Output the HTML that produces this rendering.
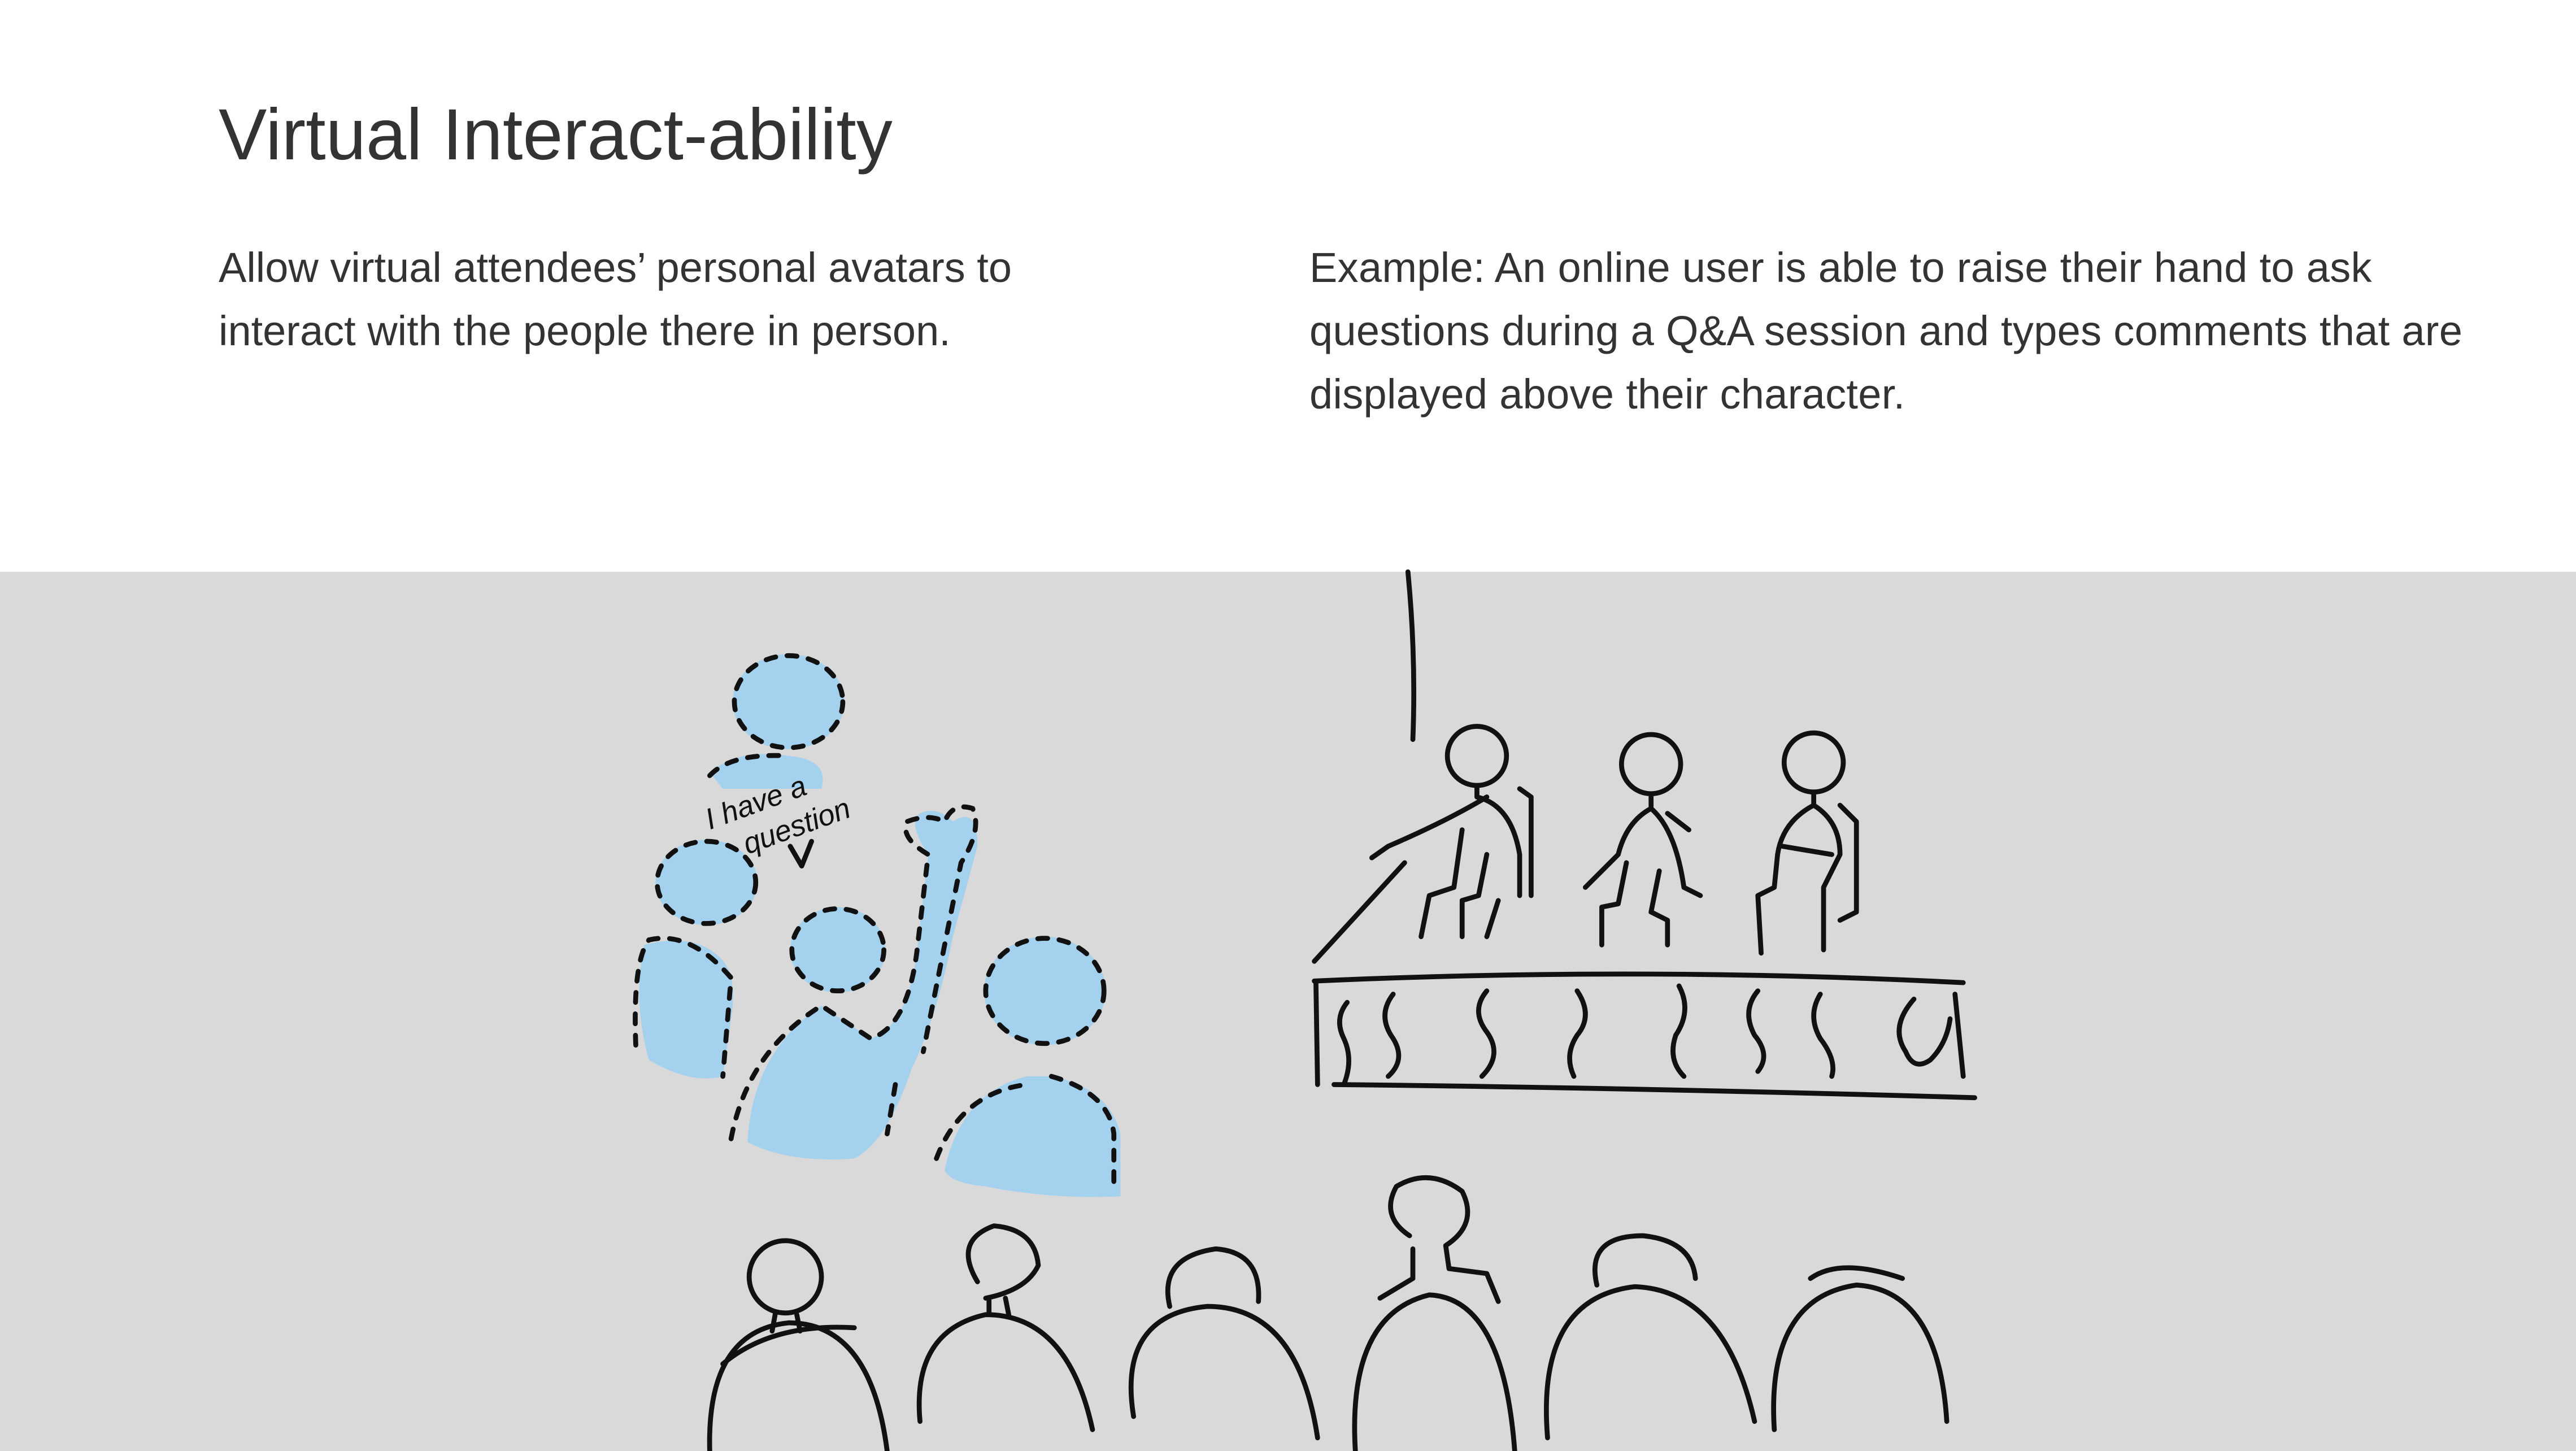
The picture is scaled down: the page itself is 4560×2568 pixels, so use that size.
<!DOCTYPE html>
<html><head><meta charset="utf-8"><style>
html,body{margin:0;padding:0;width:4560px;height:2568px;overflow:hidden;background:#fff;font-family:"Liberation Sans",Arial,sans-serif;color:#333;}
.t{position:absolute;left:387px;top:165px;font-size:128px;letter-spacing:0px;}
.p{position:absolute;font-size:74px;line-height:112px;}
.band{position:absolute;left:0;top:1012px;width:4560px;height:1556px;background:#d9d9d9;}
svg{position:absolute;left:0;top:0;}
</style></head><body>
<div class="t">Virtual Interact-ability</div>
<div class="p" style="left:387px;top:418px;width:1900px">Allow virtual attendees’ personal avatars to<br>interact with the people there in person.</div>
<div class="p" style="left:2318px;top:418px;width:2200px;letter-spacing:0.3px">Example: An online user is able to raise their hand to ask<br>questions during a Q&amp;A session and types comments that are<br>displayed above their character.</div>
<div class="band"></div>
<svg width="4560" height="2568" viewBox="0 0 1568 883" preserveAspectRatio="none">
<g fill="#a4d1ee">
<ellipse cx="480" cy="427" rx="34" ry="29"/>
<path d="M432,470 Q450,455 480,460 Q505,462 500,480 L440,480 Z"/>
<ellipse cx="430" cy="537" rx="31" ry="26"/>
<path d="M392,575 Q420,568 435,580 Q450,590 445,620 L440,655 Q420,660 395,645 Q385,610 392,575 Z"/>
<ellipse cx="510" cy="578" rx="29" ry="26"/>
<path d="M455,695 Q458,640 500,612 L530,632 Q552,625 558,580 L565,520 Q552,500 560,495 Q570,490 580,500 Q595,490 595,515 L580,570 Q570,620 555,650 Q540,695 520,705 Q480,708 455,695 Z"/>
<ellipse cx="636" cy="603" rx="37" ry="33"/>
<path d="M575,712 Q585,665 625,655 L640,655 Q675,662 682,690 L682,728 Q640,730 600,722 Q578,720 575,712 Z"/>
</g>
<g fill="none" stroke="#111" stroke-width="3" stroke-linecap="round" stroke-dasharray="6 7">
<ellipse cx="480" cy="427" rx="33" ry="28"/>
<path d="M432,472 Q445,458 480,460"/>
<ellipse cx="430" cy="537" rx="30" ry="25"/>
<path d="M387,636 Q385,585 395,572 Q420,566 445,595 L440,655"/>
<ellipse cx="510" cy="578" rx="28" ry="25"/>
<path d="M445,693 Q455,640 500,612 L530,632 Q552,625 558,580 L565,520 Q548,510 552,500 Q565,495 575,500 Q580,488 592,492 Q598,505 585,525 L578,560 L562,640 M545,660 L540,690"/>
<ellipse cx="636" cy="603" rx="36" ry="32"/>
<path d="M570,705 Q585,665 625,660 M640,655 Q675,665 678,690 L678,725"/>
</g>
<g font-family="'Liberation Sans',sans-serif" font-size="18" fill="#111" font-style="italic">
<text transform="translate(432,505) rotate(-20)">I have a</text>
<text transform="translate(455,520) rotate(-20)">question</text>
</g>
<g fill="none" stroke="#111" stroke-width="3" stroke-linecap="round" stroke-linejoin="round">
<path d="M481,515 L488,527 L494,512"/>
<path d="M857,348 Q862,400 860,450"/>
<path d="M800,585 L855,525"/>
<path d="M800,597 Q1000,588 1195,598"/>
<path d="M801,598 L802,660 M812,660 Q1000,662 1202,668 M1190,605 L1195,655"/>
<path d="M820,610 Q812,620 818,632 Q824,645 818,660 M848,605 Q838,618 848,632 Q856,645 845,655 M905,603 Q895,615 905,628 Q915,642 902,655 M960,603 Q970,618 960,630 Q952,642 958,655 M1022,600 Q1030,615 1020,630 Q1015,645 1025,655 M1070,603 Q1060,615 1068,630 Q1078,642 1070,652 M1108,605 Q1100,618 1108,632 Q1118,645 1115,655 M1165,608 Q1150,625 1160,640 Q1165,652 1175,645 Q1185,635 1187,620"/>
<circle cx="899" cy="460" r="18"/><circle cx="1005" cy="465" r="18"/><circle cx="1104" cy="464" r="18"/>
<path d="M899,478 L899,485 Q920,490 925,520 L925,545 M905,485 Q880,500 845,515 L835,522 M890,505 L885,540 L870,545 L865,570 M905,520 L900,545 L890,548 L890,570 M925,480 L932,485 L932,545 M912,548 L905,570"/>
<path d="M1005,483 L1005,492 Q990,500 985,520 L965,540 M1005,492 Q1020,505 1025,540 L1035,545 M990,525 L985,550 L975,552 L975,575 M1010,530 L1005,555 L1015,560 L1015,575 M1015,495 L1028,505"/>
<path d="M1104,482 L1104,490 Q1085,500 1082,520 L1080,540 L1070,545 L1072,580 M1104,490 Q1120,500 1120,520 L1110,540 L1110,578 M1085,515 L1115,520 M1120,490 L1130,500 L1130,555 L1120,560"/>
<circle cx="478" cy="777" r="22"/><path d="M472,799 L470,810 M485,800 L487,810 M440,830 Q470,805 520,808 M432,883 Q430,810 480,805 Q530,805 540,883"/>
<path d="M595,780 Q580,755 605,746 Q630,748 632,770 Q625,785 600,790 M602,790 L602,800 M612,790 L614,800 M560,865 Q555,810 600,800 Q650,800 665,870"/>
<path d="M712,795 Q705,765 740,760 Q768,762 766,792 M690,862 Q680,800 735,795 Q790,795 802,875"/>
<path d="M858,752 Q840,740 850,722 Q870,710 890,725 Q900,745 880,758 M880,758 L882,772 L905,775 L912,792 M860,760 L860,778 L840,790 M825,883 Q820,800 870,788 Q915,790 922,883"/>
<path d="M972,782 Q965,752 1000,752 Q1030,755 1032,778 M942,875 Q935,790 995,783 Q1050,785 1068,865"/>
<path d="M1102,778 Q1120,765 1158,778 M1080,870 Q1075,790 1130,782 Q1180,785 1185,865"/>
</g>
</svg>
</body></html>
